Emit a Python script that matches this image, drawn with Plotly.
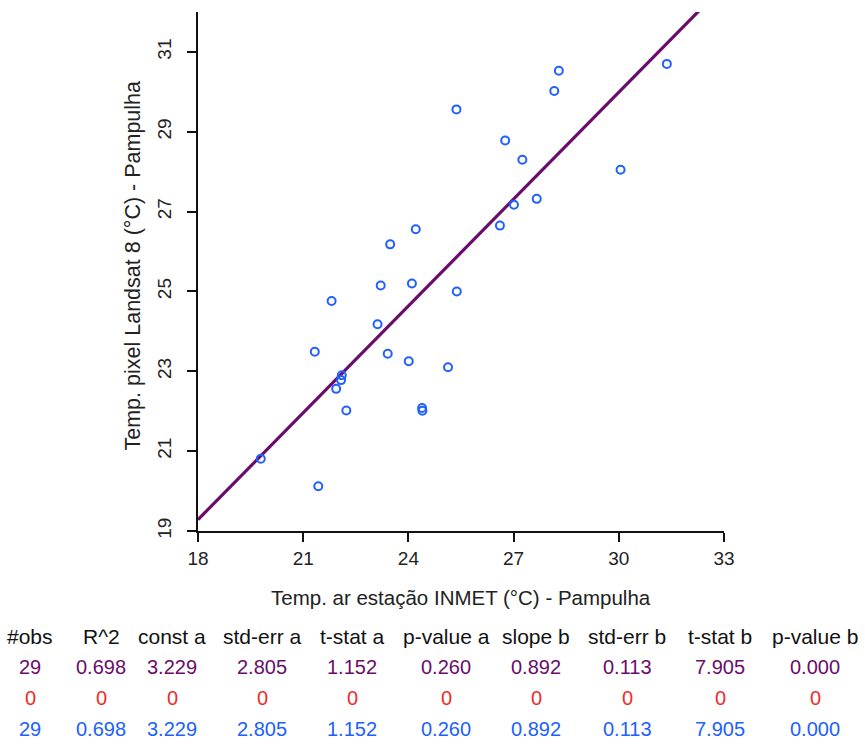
import plotly.graph_objects as go

# ---------------- data ----------------
temp_ar = [31.37, 28.29, 28.16, 25.37, 26.76, 27.25, 30.05, 27.66, 27.01, 26.61,
           24.21, 23.48, 23.21, 24.10, 25.38, 21.81, 23.12, 21.33, 23.41, 24.01,
           25.13, 22.10, 22.08, 21.94, 22.23, 24.39, 24.40, 19.79, 21.43]
temp_pixel = [30.70, 30.53, 30.02, 29.56, 28.78, 28.30, 28.05, 27.32, 27.17, 26.65,
              26.56, 26.18, 25.15, 25.20, 25.00, 24.76, 24.18, 23.49, 23.44, 23.25,
              23.10, 22.90, 22.78, 22.56, 22.02, 22.08, 22.01, 20.81, 20.12]

fit_const_a = 3.229
fit_slope_b = 0.892
line_x = [18, 33]

x_ticks = [18, 21, 24, 27, 30, 33]
y_ticks = [19, 21, 23, 25, 27, 29, 31]

table_headers = ["#obs", "R^2", "const a", "std-err a", "t-stat a", "p-value a",
                 "slope b", "std-err b", "t-stat b", "p-value b"]
row_fit = ["29", "0.698", "3.229", "2.805", "1.152", "0.260", "0.892", "0.113", "7.905", "0.000"]
row_zero = ["0", "0", "0", "0", "0", "0", "0", "0", "0", "0"]
row_all = ["29", "0.698", "3.229", "2.805", "1.152", "0.260", "0.892", "0.113", "7.905", "0.000"]

x_title = "Temp. ar estação INMET (°C) - Pampulha"
y_title = "Temp. pixel Landsat 8 (°C) - Pampulha"

# ---------------- layout constants ----------------
W, H = 865, 746
ML, MR, MT, MB = 198, 141, 12, 215
PW = W - ML - MR
PH = H - MT - MB
FONT = "Liberation Sans, Arial, sans-serif"
PURPLE = "#6a0d6a"
RED = "#ee2c2c"
BLUE = "#2060ff"
col_px = [30, 101, 172, 262, 352, 446, 536, 627, 720, 815]
row_py = [636, 667, 698, 729]

fig = go.Figure()

line_y = [fit_const_a + fit_slope_b * v for v in line_x]
fig.add_trace(go.Scatter(x=line_x, y=line_y, mode="lines",
                         line=dict(color=PURPLE, width=3.2), showlegend=False,
                         hoverinfo="skip"))
fig.add_trace(go.Scatter(x=temp_ar, y=temp_pixel, mode="markers",
                         marker=dict(symbol="circle-open", size=8, color=BLUE,
                                     line=dict(width=2, color=BLUE)),
                         showlegend=False))

axis_common = dict(showgrid=False, zeroline=False, showline=True, linecolor="#111",
                   linewidth=1.5, ticks="outside", ticklen=9, tickwidth=1.5,
                   tickcolor="#111", tickfont=dict(family=FONT, size=19, color="#222"))

fig.update_xaxes(range=[18, 33], tickmode="array", tickvals=x_ticks,
                 ticktext=[str(t) for t in x_ticks], ticklabelstandoff=0, **axis_common)
fig.update_yaxes(range=[19, 32], tickmode="array", tickvals=y_ticks,
                 ticktext=[str(t) for t in y_ticks], tickangle=-90,
                 ticklabelstandoff=9, **axis_common)

annotations = []
# axis titles
annotations.append(dict(text=x_title, xref="paper", yref="paper", x=0.5, y=0,
                        xanchor="center", yanchor="middle", yshift=-(597 - (H - MB)),
                        showarrow=False, font=dict(family=FONT, size=20.5, color="#222")))
annotations.append(dict(text=y_title, xref="paper", yref="paper", x=0, y=0.5,
                        xanchor="center", yanchor="middle", xshift=132 - ML, yshift=6,
                        textangle=-90,
                        showarrow=False, font=dict(family=FONT, size=21.5, color="#222")))

rows = [(table_headers, "#111", 21), (row_fit, PURPLE, 20), (row_zero, RED, 20),
        (row_all, BLUE, 20)]
for (cells, color, fsize), py in zip(rows, row_py):
    for txt, px in zip(cells, col_px):
        annotations.append(dict(text=txt, xref="paper", yref="paper",
                                x=(px - ML) / PW, y=(H - MB - py) / PH,
                                xanchor="center", yanchor="middle", showarrow=False,
                                font=dict(family=FONT, size=fsize, color=color)))

fig.update_layout(width=W, height=H, margin=dict(l=ML, r=MR, t=MT, b=MB),
                  paper_bgcolor="white", plot_bgcolor="white",
                  annotations=annotations, showlegend=False,
                  font=dict(family=FONT))

fig.write_html("out.html", config={"displayModeBar": False},
               post_script="document.body.style.margin='0';")
